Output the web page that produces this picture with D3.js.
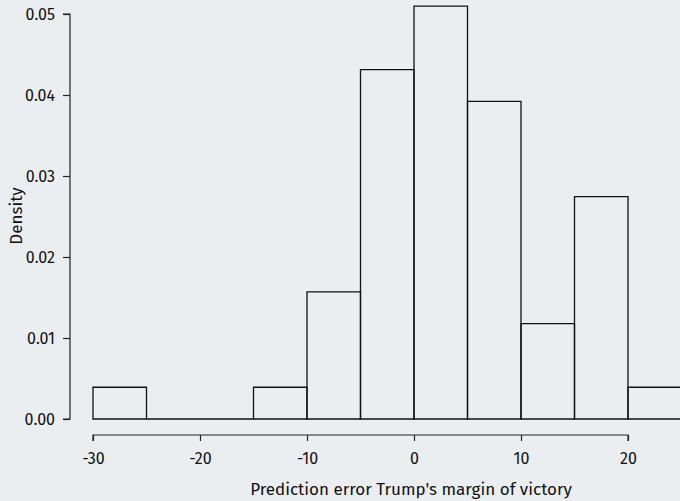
<!DOCTYPE html>
<html><head><meta charset="utf-8">
<script src="https://cdn.jsdelivr.net/npm/d3@7"></script>
<style>
html,body{margin:0;padding:0;background:#ebeef0;}
svg{display:block;}
text{font-family:"Fira Sans","Open Sans","Noto Sans",sans-serif;fill:#111;}
</style></head>
<body>
<script>
const binStarts = [-30,-25,-20,-15,-10,-5,0,5,10,15,20];
const binWidth = 5;
const counts = [1,0,0,1,4,11,13,10,3,7,1];
const total = 51;
const densities = counts.map(c => c / (total * binWidth));
const xTicks = [-30,-20,-10,0,10,20];
const yTicks = [0,0.01,0.02,0.03,0.04,0.05];
const xLabel = "Prediction error Trump's margin of victory";
const yLabel = "Density";

const W = 680, H = 501;
const FONT = '"Fira Sans","Open Sans","Noto Sans",sans-serif';
const svg = d3.select("body").append("svg").attr("width", W).attr("height", H);

const x = d3.scaleLinear().domain([-30, 20]).range([93, 628]);
const y = d3.scaleLinear().domain([0, 0.05]).range([419, 14]);

// bars (zero-height bins drawn as a baseline segment)
const bars = svg.append("g");
bars.selectAll("path").data(binStarts).join("path")
  .attr("d", (d,i) => {
    const x0 = x(d), x1 = x(d + binWidth), y0 = y(0), y1 = y(densities[i]);
    return densities[i] > 0 ? `M${x0},${y0}V${y1}H${x1}V${y0}Z` : `M${x0},${y0}H${x1}`;
  })
  .attr("fill", "none")
  .attr("stroke", "#111")
  .attr("stroke-width", 1.3);

// x axis
const xAxis = svg.append("g").attr("transform", "translate(0,435)")
  .call(d3.axisBottom(x).tickValues(xTicks).tickFormat(d => String(d)).tickSize(6).tickPadding(12));
xAxis.selectAll("path,line").attr("stroke", "#222").attr("stroke-width", 1.2);
xAxis.select(".domain").attr("d", `M${x(-30)},6V0H${x(20)}V6`);
xAxis.selectAll("text").attr("font-size", 16).style("font-family", FONT).attr("fill", "#111");

// y axis
const yAxis = svg.append("g").attr("transform", "translate(70,0)")
  .call(d3.axisLeft(y).tickValues(yTicks).tickFormat(d3.format(".2f")).tickSize(7).tickPadding(8));
yAxis.selectAll("path,line").attr("stroke", "#222").attr("stroke-width", 1.2);
yAxis.select(".domain").attr("d", `M-7,${y(0)}H0V${y(0.05)}H-7`);
yAxis.selectAll("text").attr("font-size", 16).style("font-family", FONT).attr("fill", "#111");

svg.append("text").attr("x", 411).attr("y", 495).attr("text-anchor", "middle")
  .attr("font-size", 17).text(xLabel);
svg.append("text").attr("transform", "translate(22,216) rotate(-90)").attr("text-anchor", "middle")
  .attr("font-size", 17).text(yLabel);
</script>
</body></html>
